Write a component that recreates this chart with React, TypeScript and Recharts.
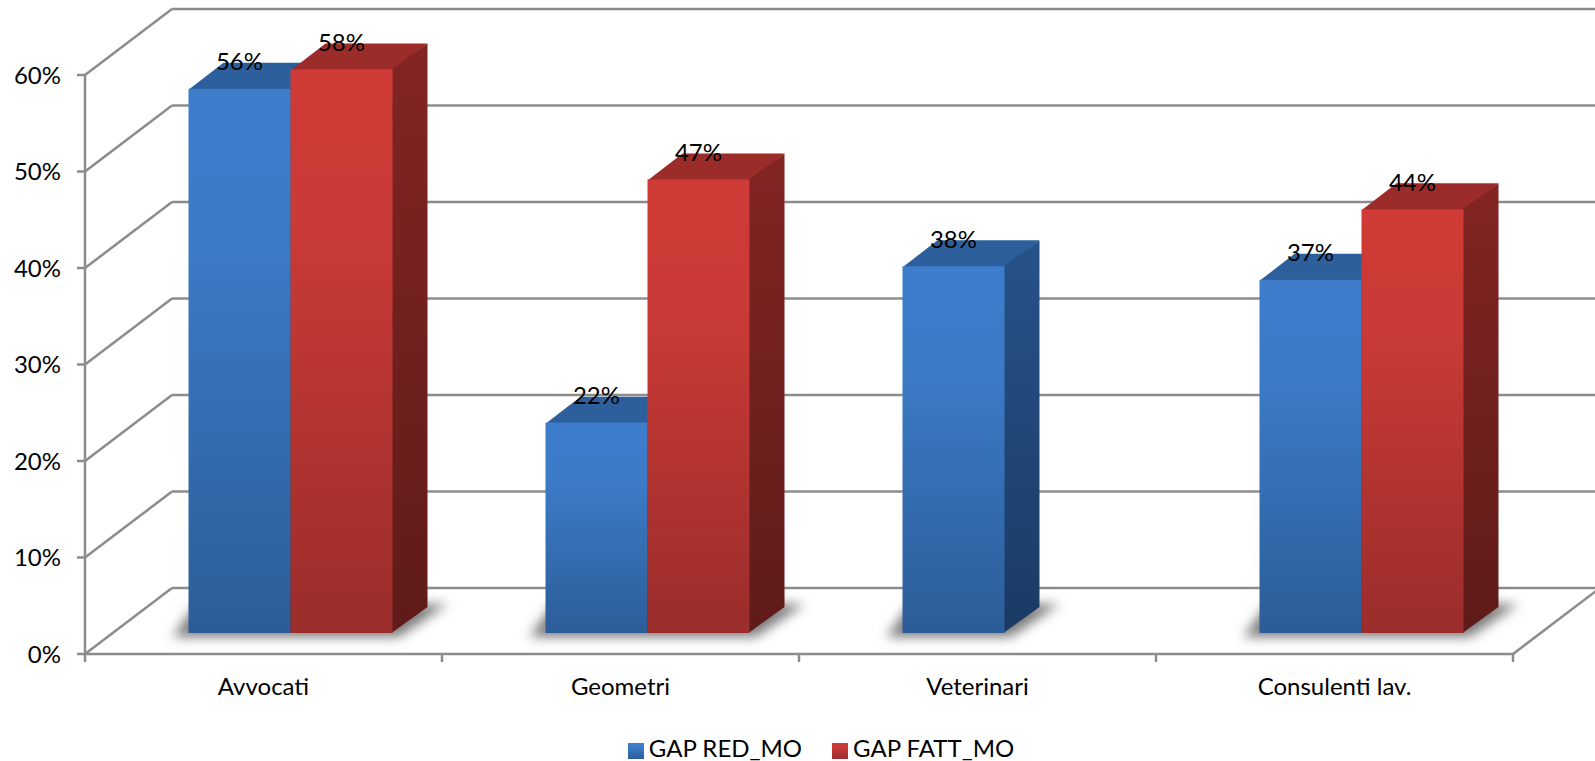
import {
  BarChart,
  Bar,
  XAxis,
  YAxis,
  CartesianGrid,
  Legend,
  LabelList,
} from "recharts";

const categories = ["Avvocati", "Geometri", "Veterinari", "Consulenti lav."];
const gapRed = [56.4, 21.8, 38.0, 36.6];
const gapFatt = [58.4, 47.0, null, 43.9];
const yTicks = [0, 10, 20, 30, 40, 50, 60];

const data = categories.map((name, i) => ({
  name,
  red: gapRed[i],
  fatt: gapFatt[i],
}));

const FONT = "Lato, sans-serif";
const FONT_SIZE = 24;
const AXIS = "#8c8c8c";
const AXIS_W = 2.5;

// 3D look: back wall offset, bar depth, bars offset from the front plane
const WALL_DX = 87;
const WALL_DY = -66;
const DEPTH_DX = 35;
const DEPTH_DY = -26;
const BAR_DX = 26.5;
const BAR_DY = -21;
const BAND = 357;

const percent = (v: number) => `${v}%`;

function GridLine({ x1, y1, x2, index }: any) {
  const bx = x1 + WALL_DX;
  const by = y1 + WALL_DY;
  return (
    <g key={`wall-${index}`} stroke={AXIS} strokeWidth={AXIS_W} fill="none">
      <line x1={x1} y1={y1} x2={bx} y2={by} />
      <line x1={bx} y1={by} x2={x2 + WALL_DX} y2={by} />
      {y1 > 650 && <line x1={x2} y1={y1} x2={x2 + WALL_DX} y2={by} />}
    </g>
  );
}

// Excel puts the ticks between the categories, not under them
function CategoryTick({ x, y, payload, index }: any) {
  const top = y - 22;
  const left = x - BAND / 2;
  return (
    <g>
      <line x1={left} y1={top} x2={left} y2={top + 8} stroke={AXIS} strokeWidth={AXIS_W} />
      {index === categories.length - 1 && (
        <line x1={left + BAND} y1={top} x2={left + BAND} y2={top + 8} stroke={AXIS} strokeWidth={AXIS_W} />
      )}
      <text
        x={x}
        y={y + 9}
        textAnchor="middle"
        dominantBaseline="central"
        fontFamily={FONT}
        fontSize={FONT_SIZE}
        fill="#000"
      >
        {payload.value}
      </text>
    </g>
  );
}

function Box({ x, y, width, height, front, top, side }: any) {
  const l = x + BAR_DX;
  const r = l + width;
  const t = y + BAR_DY;
  const b = t + height;
  return (
    <g>
      <polygon
        points={`${l},${t + 1} ${r},${t + 1} ${r + DEPTH_DX},${t + DEPTH_DY} ${l + DEPTH_DX},${t + DEPTH_DY}`}
        fill={top}
      />
      <polygon
        points={`${r - 1},${t} ${r + DEPTH_DX},${t + DEPTH_DY} ${r + DEPTH_DX},${b + DEPTH_DY} ${r - 1},${b}`}
        fill={side}
      />
      <rect x={l} y={t} width={width} height={height} fill={front} />
    </g>
  );
}

// the floor shadow belongs to the whole group, so it is drawn once under the first bar
function RedBar(props: any) {
  const { x, y, width, height, payload } = props;
  const l = x + BAR_DX;
  const r = l + (payload.fatt != null ? width * 2 : width);
  const b = y + BAR_DY + height;
  return (
    <g>
      <polygon
        points={`${l - 16},${b + 4} ${r + 6},${b + 4} ${r + DEPTH_DX + 20},${b + DEPTH_DY - 3} ${l + 8},${b + DEPTH_DY - 3}`}
        fill="#7a7a7a"
        filter="url(#floorShadow)"
      />
      <Box {...props} front="url(#blueFront)" top="#2c5f9b" side="url(#blueSide)" />
    </g>
  );
}

function FattBar(props: any) {
  return <Box {...props} front="url(#redFront)" top="#9b2c2a" side="url(#redSide)" />;
}

function BarLabel({ x, y, width, value }: any) {
  if (value == null) return null;
  return (
    <text
      x={x + BAR_DX + width / 2}
      y={y + BAR_DY - 28}
      textAnchor="middle"
      dominantBaseline="central"
      fontFamily={FONT}
      fontSize={FONT_SIZE}
      fill="#000"
    >
      {Math.round(value)}%
    </text>
  );
}

export default function App() {
  return (
    <div style={{ position: "absolute", left: 0, top: 0, width: 1595, height: 761, overflow: "hidden" }}>
      <BarChart
        width={1595}
        height={761}
        data={data}
        barSize={102}
        barGap={0}
        margin={{ top: 75, right: 82, bottom: 47, left: 0 }}
      >
        <defs>
          <linearGradient id="blueFront" x1="0" y1="0" x2="0" y2="1">
            <stop offset="0" stopColor="#3d7dcc" />
            <stop offset="0.3" stopColor="#3b7ac6" />
            <stop offset="1" stopColor="#2c5d98" />
          </linearGradient>
          <linearGradient id="redFront" x1="0" y1="0" x2="0" y2="1">
            <stop offset="0" stopColor="#d03b37" />
            <stop offset="0.3" stopColor="#c93a36" />
            <stop offset="1" stopColor="#9a2d2b" />
          </linearGradient>
          <linearGradient id="blueSide" x1="0" y1="0" x2="0" y2="1">
            <stop offset="0" stopColor="#27538a" />
            <stop offset="1" stopColor="#1a3a63" />
          </linearGradient>
          <linearGradient id="redSide" x1="0" y1="0" x2="0" y2="1">
            <stop offset="0" stopColor="#822523" />
            <stop offset="1" stopColor="#5f1b19" />
          </linearGradient>
          <filter id="floorShadow" x="-20%" y="-40%" width="140%" height="180%">
            <feGaussianBlur stdDeviation="6" />
          </filter>
        </defs>
        <CartesianGrid vertical={false} horizontal={GridLine} />
        <XAxis
          dataKey="name"
          height={60}
          tickSize={8}
          tickMargin={14}
          axisLine={{ stroke: AXIS, strokeWidth: AXIS_W }}
          tickLine={false}
          interval={0}
          tick={CategoryTick}
        />
        <YAxis
          width={85}
          domain={[0, 60]}
          ticks={yTicks}
          tickFormatter={percent}
          tickSize={8}
          tickMargin={16}
          axisLine={{ stroke: AXIS, strokeWidth: AXIS_W }}
          tickLine={{ stroke: AXIS, strokeWidth: AXIS_W }}
          tick={{ fontFamily: FONT, fontSize: FONT_SIZE, fill: "#000" }}
        />
        <Legend
          layout="horizontal"
          align="center"
          verticalAlign="middle"
          iconType="square"
          iconSize={16}
          itemSorter={null}
          formatter={(v: string) => <span style={{ color: "#000", marginLeft: 1, marginRight: 20 }}>{v}</span>}
          wrapperStyle={{
            left: 616,
            top: 733,
            width: 440,
            fontFamily: FONT,
            fontSize: FONT_SIZE,
          }}
        />
        <Bar dataKey="red" name="GAP RED_MO" fill="url(#blueFront)" shape={RedBar} isAnimationActive={false}>
          <LabelList dataKey="red" content={BarLabel} />
        </Bar>
        <Bar dataKey="fatt" name="GAP FATT_MO" fill="url(#redFront)" shape={FattBar} isAnimationActive={false}>
          <LabelList dataKey="fatt" content={BarLabel} />
        </Bar>
      </BarChart>
    </div>
  );
}
